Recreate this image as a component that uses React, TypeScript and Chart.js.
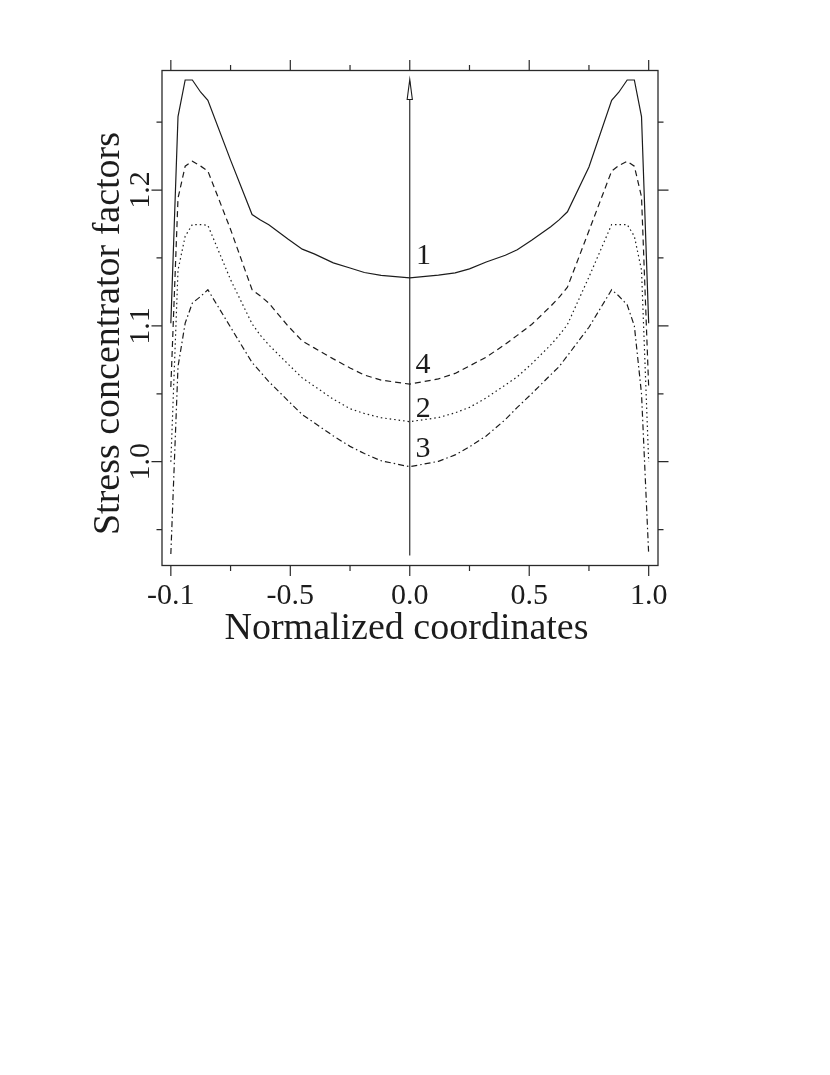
import React, { useEffect, useRef } from "react";
import { Chart, registerables } from "chart.js";

Chart.register(...registerables);

// ---- data ----
const xs = [
  -1.0, -0.97, -0.94, -0.91, -0.875, -0.845, -0.75, -0.66, -0.625, -0.59, -0.51, -0.45, -0.4, -0.32, -0.25, -0.19,
  -0.12, 0, 0.12, 0.19, 0.25, 0.32, 0.4, 0.45, 0.51, 0.59, 0.625, 0.66, 0.75, 0.845, 0.875, 0.91, 0.94, 0.97, 1.0,
];

// curve 1 (solid)
const curve1 = [
  1.102, 1.254, 1.281, 1.281, 1.272, 1.266, 1.222, 1.182, 1.178, 1.1745, 1.164, 1.1565, 1.153, 1.1464, 1.1426, 1.1393,
  1.1372, 1.1354, 1.1373, 1.139, 1.142, 1.147, 1.152, 1.156, 1.163, 1.173, 1.178, 1.184, 1.217, 1.266, 1.272, 1.281,
  1.281, 1.254, 1.102,
];

// curve 4 (dashed)
const curve4 = [
  1.055, 1.194, 1.2176, 1.2212, 1.2176, 1.214, 1.171, 1.1266, 1.122, 1.1168, 1.1, 1.0889, 1.0838, 1.0757, 1.069, 1.0638,
  1.0601, 1.0571, 1.061, 1.065, 1.0705, 1.077, 1.0865, 1.093, 1.101, 1.1145, 1.121, 1.1285, 1.17, 1.214, 1.218, 1.2212,
  1.2176, 1.195, 1.055,
];

// curve 2 (dotted)
const curve2 = [
  1.0, 1.141, 1.166, 1.1746, 1.1746, 1.174, 1.134, 1.1015, 1.093, 1.086, 1.072, 1.0617, 1.0557, 1.046, 1.039, 1.0355,
  1.0324, 1.0295, 1.0325, 1.036, 1.04, 1.047, 1.0565, 1.0625, 1.072, 1.086, 1.093, 1.101, 1.136, 1.1746, 1.1746,
  1.1746, 1.166, 1.141, 1.0,
];

// curve 3 (dash-dot)
const curve3 = [
  0.932, 1.07, 1.102, 1.1168, 1.1217, 1.1266, 1.099, 1.073, 1.066, 1.059, 1.045, 1.0347, 1.0287, 1.019, 1.0113, 1.006,
  1.0007, 0.9963, 1.0003, 1.005, 1.011, 1.019, 1.031, 1.04, 1.05, 1.064, 1.07, 1.078, 1.099, 1.1266, 1.122, 1.1155,
  1.1, 1.05, 0.932,
];

const xMajorTicks = [-1, -0.5, 0, 0.5, 1];
const xTickLabels = ["-0.1", "-0.5", "0.0", "0.5", "1.0"];
const xMinorTicks = [-0.75, -0.25, 0.25, 0.75];
const yMajorTicks = [1.0, 1.1, 1.2];
const yTickLabels = ["1.0", "1.1", "1.2"];
const yMinorTicks = [0.95, 1.05, 1.15, 1.25];

const curveNames = ["1", "4", "2", "3"];
const curveLabelX = [0.057, 0.055, 0.056, 0.055];
const curveLabelY = [1.1517, 1.0713, 1.0389, 1.0094];

const arrowX = 0;
const arrowBottom = 0.931;
const arrowTop = 1.2814;

const xTitle = "Normalized coordinates";
const yTitle = "Stress concentrator factors";

const X_MIN = -1.037;
const X_MAX = 1.039;
const Y_MIN = 0.9236;
const Y_MAX = 1.288;

const SERIF = '"Liberation Serif", "Times New Roman", serif';
const INK = "#1c1c1c";

function matchLabel(v: number, ticks: number[], labels: string[]): string {
  for (let i = 0; i < ticks.length; i++) {
    if (Math.abs(v - ticks[i]) < 1e-6) return labels[i];
  }
  return "";
}

const framePlugin = {
  id: "framePlugin",
  afterDraw(chart: any) {
    const { ctx, chartArea } = chart;
    const xs_ = chart.scales.x;
    const ys_ = chart.scales.y;
    const { left, right, top, bottom } = chartArea;
    ctx.save();
    // frame
    ctx.strokeStyle = "#2a2a2a";
    ctx.lineWidth = 1.3;
    ctx.strokeRect(left, top, right - left, bottom - top);

    // tick marks (outward on all sides)
    const drawX = (vals: number[], len: number) => {
      vals.forEach((v) => {
        const px = xs_.getPixelForValue(v);
        ctx.beginPath();
        ctx.moveTo(px, bottom);
        ctx.lineTo(px, bottom + len);
        ctx.moveTo(px, top);
        ctx.lineTo(px, top - len);
        ctx.stroke();
      });
    };
    const drawY = (vals: number[], len: number) => {
      vals.forEach((v) => {
        const py = ys_.getPixelForValue(v);
        ctx.beginPath();
        ctx.moveTo(left, py);
        ctx.lineTo(left - len, py);
        ctx.moveTo(right, py);
        ctx.lineTo(right + len, py);
        ctx.stroke();
      });
    };
    ctx.lineWidth = 1.2;
    drawX(xMajorTicks, 10.5);
    drawX(xMinorTicks, 5.5);
    drawY(yMajorTicks, 10.5);
    drawY(yMinorTicks, 5.5);

    // vertical arrow at x = 0
    const ax = xs_.getPixelForValue(arrowX);
    const ab = ys_.getPixelForValue(arrowBottom);
    const at = ys_.getPixelForValue(arrowTop);
    ctx.strokeStyle = INK;
    ctx.lineWidth = 1.1;
    ctx.beginPath();
    ctx.moveTo(ax, ab);
    ctx.lineTo(ax, at + 2);
    ctx.stroke();
    ctx.beginPath();
    ctx.moveTo(ax, at);
    ctx.lineTo(ax - 2.6, at + 20);
    ctx.lineTo(ax + 2.6, at + 20);
    ctx.closePath();
    ctx.fillStyle = "#ffffff";
    ctx.fill();
    ctx.stroke();

    // curve labels
    ctx.fillStyle = INK;
    ctx.font = `30px ${SERIF}`;
    ctx.textAlign = "center";
    ctx.textBaseline = "middle";
    curveNames.forEach((n, i) => {
      ctx.fillText(n, xs_.getPixelForValue(curveLabelX[i]), ys_.getPixelForValue(curveLabelY[i]));
    });

    // axis titles
    ctx.font = `38px ${SERIF}`;
    ctx.textBaseline = "alphabetic";
    ctx.textAlign = "center";
    ctx.fillText(xTitle, (left + right) / 2 - 3.5, bottom + 73);
    ctx.save();
    ctx.translate(left - 43.5, (top + bottom) / 2 + 15.5);
    ctx.rotate(-Math.PI / 2);
    ctx.fillText(yTitle, 0, 0);
    ctx.restore();

    ctx.restore();
  },
};

export default function App() {
  const ref = useRef<HTMLCanvasElement | null>(null);

  useEffect(() => {
    if (!ref.current) return;
    const mk = (ys: number[]) => xs.map((x, i) => ({ x, y: ys[i] }));
    const base = {
      borderColor: INK,
      borderWidth: 1.2,
      pointRadius: 0,
      fill: false,
      tension: 0,
    };
    const chart = new Chart(ref.current, {
      type: "line",
      data: {
        datasets: [
          { ...base, label: "1", data: mk(curve1), borderDash: [] },
          { ...base, label: "4", data: mk(curve4), borderDash: [6, 4] },
          { ...base, label: "2", data: mk(curve2), borderDash: [1.5, 3] },
          { ...base, label: "3", data: mk(curve3), borderDash: [6, 3, 1.5, 3] },
        ],
      },
      options: {
        animation: false,
        responsive: false,
        devicePixelRatio: 1,
        layout: { padding: { left: 0, top: 70.5, right: 172, bottom: 419.5 } },
        plugins: { legend: { display: false }, tooltip: { enabled: false } },
        scales: {
          x: {
            type: "linear",
            min: X_MIN,
            max: X_MAX,
            grid: { display: false, drawTicks: false },
            border: { display: false },
            afterBuildTicks: (scale: any) => {
              scale.ticks = xMajorTicks.map((v) => ({ value: v }));
            },
            afterFit: (scale: any) => {
              scale.height = 90;
            },
            ticks: {
              autoSkip: false,
              maxRotation: 0,
              minRotation: 0,
              padding: 15.5,
              color: INK,
              font: { family: SERIF, size: 30, lineHeight: 1 },
              callback: (v: any) => matchLabel(Number(v), xMajorTicks, xTickLabels),
            },
          },
          y: {
            type: "linear",
            min: Y_MIN,
            max: Y_MAX,
            grid: { display: false, drawTicks: false },
            border: { display: false },
            afterBuildTicks: (scale: any) => {
              scale.ticks = yMajorTicks.map((v) => ({ value: v }));
            },
            afterFit: (scale: any) => {
              scale.width = 162;
            },
            ticks: {
              autoSkip: false,
              minRotation: 90,
              maxRotation: 90,
              crossAlign: "center",
              padding: 2.25,
              color: INK,
              font: { family: SERIF, size: 30, lineHeight: 1 },
              callback: (v: any) => matchLabel(Number(v), yMajorTicks, yTickLabels),
            },
          },
        },
      },
      plugins: [framePlugin],
    } as any);
    return () => chart.destroy();
  }, []);

  return (
    <div style={{ position: "absolute", left: 0, top: 0, width: 830, height: 1075, background: "#fff" }}>
      <canvas ref={ref} width={830} height={1075} style={{ display: "block" }} />
    </div>
  );
}
